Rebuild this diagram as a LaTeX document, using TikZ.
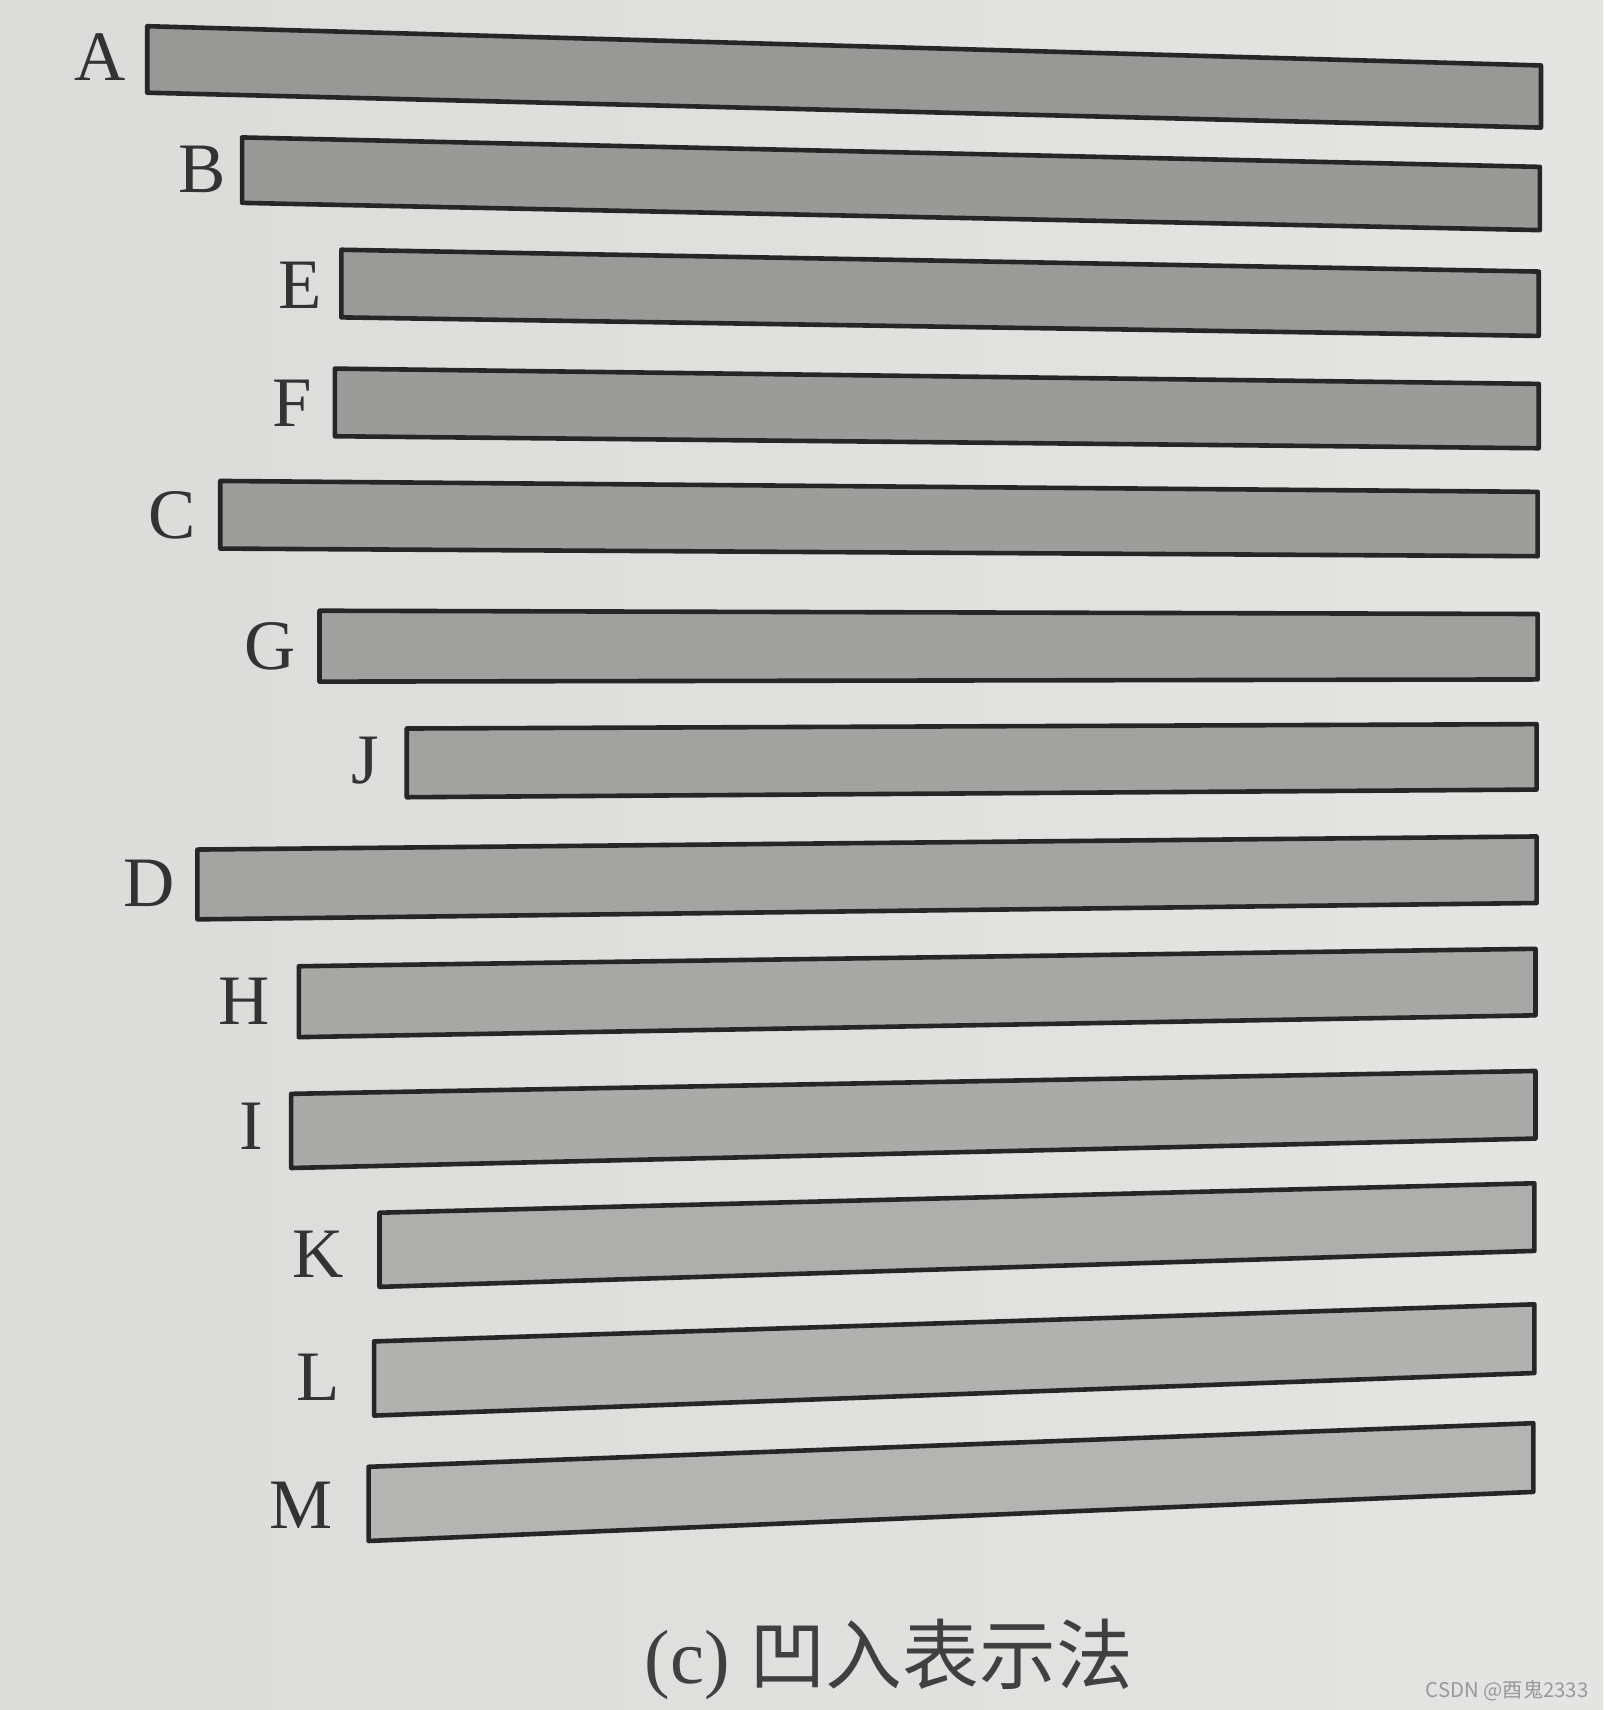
\documentclass[tikz,border=0pt]{standalone}
\usepackage{fontspec}
\setmainfont{Liberation Serif}
\newfontfamily\cjk{Noto Sans CJK SC}
\definecolor{paper}{RGB}{219,219,217}
\definecolor{paperlight}{RGB}{228,228,226}
\begin{document}
\begin{tikzpicture}[x=0.01cm, y=-0.01cm]
\tikzstyle{bar} = [draw=black!85, line width=1.2pt, line join=round];
\tikzstyle{letter} = [inner sep=0pt, font=\fontsize{18.5}{20}\selectfont, text=black!80];
\useasboundingbox (0,0) rectangle (1470,1568);
\shade[left color=paper, right color=paperlight] (0,0) rectangle (1470,1568);
% bars, top to bottom
\filldraw[bar, fill={rgb,255:red,152;green,152;blue,151}] (135,24) -- (1413,60) -- (1413,117) -- (135,85) -- cycle;
\filldraw[bar, fill={rgb,255:red,153;green,153;blue,152}] (222,126) -- (1412,153) -- (1412,211) -- (222,186) -- cycle;
\filldraw[bar, fill={rgb,255:red,154;green,154;blue,153}] (313,229) -- (1411,249) -- (1411,308) -- (313,291) -- cycle;
\filldraw[bar, fill={rgb,255:red,155;green,155;blue,154}] (307,338) -- (1411,352) -- (1411,411) -- (307,400) -- cycle;
\filldraw[bar, fill={rgb,255:red,157;green,157;blue,156}] (202,441) -- (1410,451) -- (1410,510) -- (202,503) -- cycle;
\filldraw[bar, fill={rgb,255:red,160;green,160;blue,159}] (293,560) -- (1410,563) -- (1410,623) -- (293,625) -- cycle;
\filldraw[bar, fill={rgb,255:red,162;green,162;blue,161}] (373,668) -- (1409,664) -- (1409,724) -- (373,731) -- cycle;
\filldraw[bar, fill={rgb,255:red,164;green,164;blue,163}] (181,779) -- (1409,767) -- (1409,828) -- (181,843) -- cycle;
\filldraw[bar, fill={rgb,255:red,167;green,167;blue,166}] (274,886) -- (1408,870) -- (1408,931) -- (274,951) -- cycle;
\filldraw[bar, fill={rgb,255:red,170;green,170;blue,169}] (267,1003) -- (1408,982) -- (1408,1044) -- (267,1071) -- cycle;
\filldraw[bar, fill={rgb,255:red,174;green,174;blue,173}] (348,1112) -- (1407,1085) -- (1407,1147) -- (348,1180) -- cycle;
\filldraw[bar, fill={rgb,255:red,177;green,177;blue,176}] (343,1230) -- (1407,1196) -- (1407,1259) -- (343,1298) -- cycle;
\filldraw[bar, fill={rgb,255:red,180;green,180;blue,179}] (338,1345) -- (1406,1305) -- (1406,1368) -- (338,1413) -- cycle;
% labels
\node[letter] (A) at (92,52) {A};
\node[letter] (B) at (185,155) {B};
\node[letter] (E) at (275,262) {E};
\node[letter] (F) at (268,370) {F};
\node[letter] (C) at (158,473) {C};
\node[letter] (G) at (248,593) {G};
\node[letter] (J) at (335,697) {J};
\node[letter] (D) at (137,810) {D};
\node[letter] (H) at (224,918) {H};
\node[letter] (I) at (230,1033) {I};
\node[letter] (K) at (292,1150) {K};
\node[letter] (L) at (292,1263) {L};
\node[letter] (M) at (276,1380) {M};
% caption and watermark
\node[inner sep=0pt, text=black!75, font=\fontsize{20}{24}\selectfont] (caption) at (815,1522) {(c) {\cjk 凹入表示法}};
\node[inner sep=0pt, text=black!40, font=\cjk\fontsize{5.3}{6}\selectfont] (mark) at (1382,1550) {CSDN @酉鬼2333};
\end{tikzpicture}
\end{document}
